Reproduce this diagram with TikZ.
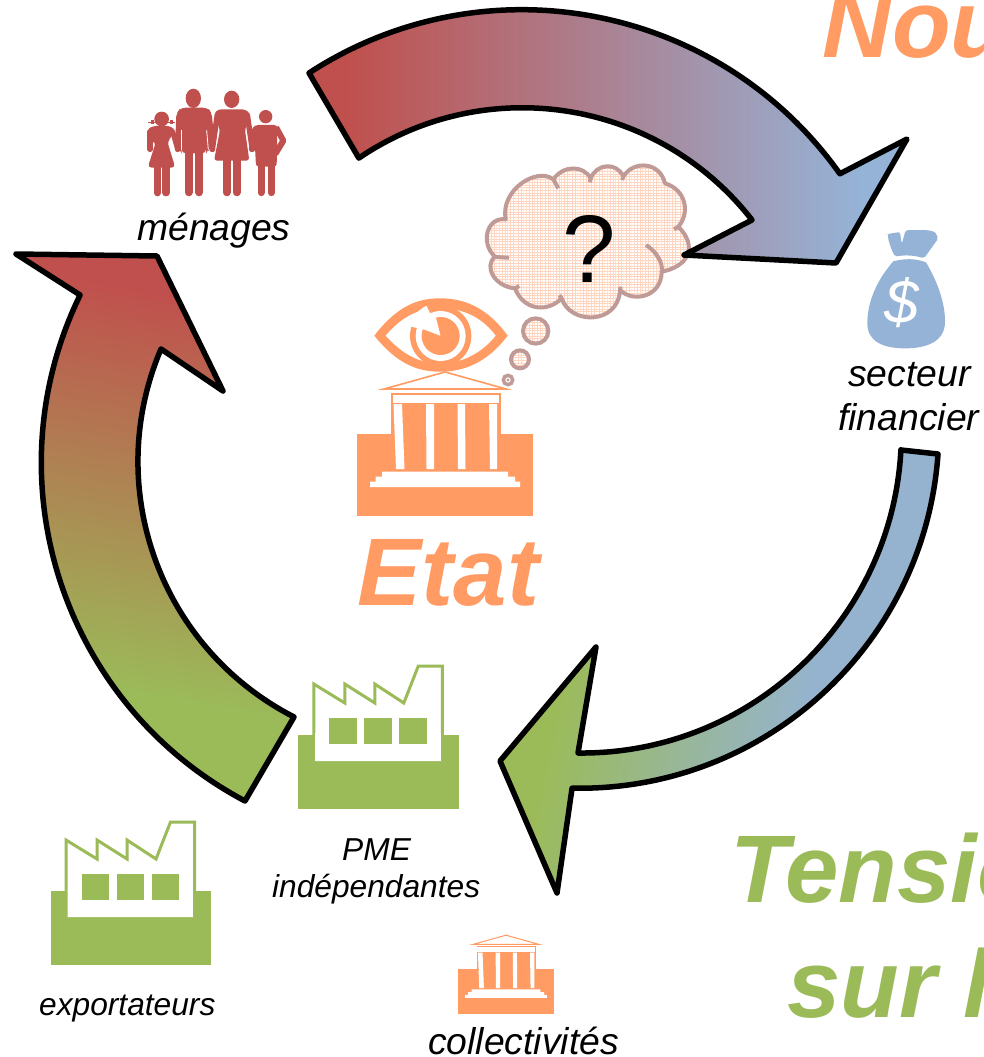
\documentclass[tikz,border=0pt]{standalone}
\usepackage{fontspec}
\setmainfont{Liberation Sans}
\usetikzlibrary{patterns,calc}
\definecolor{redc}{HTML}{C0504D}
\definecolor{bluec}{HTML}{95B3D7}
\definecolor{bluer}{HTML}{95B3CF}
\definecolor{greenc}{HTML}{9BBB59}
\definecolor{orangec}{HTML}{FF9B63}
\definecolor{cloudc}{HTML}{BF9A96}
\definecolor{gridc}{HTML}{FFD5BF}
\pgfdeclarepatternformonly{finegrid}{\pgfqpoint{-0.2pt}{-0.2pt}}{\pgfqpoint{2.9pt}{2.9pt}}{\pgfqpoint{2.7pt}{2.7pt}}{%
  \pgfsetlinewidth{0.7pt}%
  \pgfpathmoveto{\pgfqpoint{0pt}{0pt}}\pgfpathlineto{\pgfqpoint{2.7pt}{0pt}}%
  \pgfpathmoveto{\pgfqpoint{0pt}{0pt}}\pgfpathlineto{\pgfqpoint{0pt}{2.7pt}}%
  \pgfusepath{stroke}}
\tikzset{
  x=1pt,y=-1pt,
  lab/.style={inner sep=0pt,anchor=base west,font=\fontsize{37.3}{37.3}\selectfont\itshape,text=black},
  labs/.style={lab,font=\fontsize{31.7}{31.7}\selectfont\itshape},
  big/.style={inner sep=0pt,anchor=base west,font=\fontsize{96}{96}\selectfont\bfseries\itshape},
  arrowline/.style={draw=black,line width=5.5pt,line join=round},
  cloudline/.style={draw=cloudc,line width=4pt},
  limb/.style={draw=redc,line cap=round,line join=round},
}
% gradient-filled arrow: #1 path, #2 centre, #3 angle, #4 #5 extent, #6 #7 colours
\newcommand{\gradarrow}[7]{%
  \begin{scope}
    \clip #1;
    \begin{scope}[transform canvas={rotate around={#3:(#2)}}]
      \fill[#6] ($(#2)+(#4-1500,-1500)$) rectangle ($(#2)+(#4+1,1500)$);
      \fill[#7] ($(#2)+(#5-1,-1500)$) rectangle ($(#2)+(#5+1500,1500)$);
      \shade[left color=#6,right color=#7] ($(#2)+(#4,-1500)$) rectangle ($(#2)+(#5,1500)$);
    \end{scope}
  \end{scope}
  \path[arrowline] #1;}
\newcommand{\temple}[4]{% x, y of base top-left, scale, line width
  \begin{scope}[shift={(#1,#2)},scale=#3]
    \fill[orangec] (0,0) rectangle (176,81.7);
    \fill[orangec] (34,-41.5) rectangle (143.5,36);
    \fill[white] (35.5,-39.5) rectangle (142,-31.5);
    \foreach \a/\b/\c/\d in {36.5/45/39/47.5, 69/77/69.5/77, 100.5/108/101/108.5, 132/140/133/140}
      \fill[white] (\a,-30) -- (\b,-30) -- (\d,35) -- (\c,35) -- cycle;
    \fill[white] (25,37.5) -- (151,37.5) -- (151,42.5) -- (158,42.5) -- (158,47.5) -- (163,47.5) -- (163,53) -- (13,53) -- (13,47.5) -- (18.5,47.5) -- (18.5,42.5) -- (25,42.5) -- cycle;
    \draw[orangec,line width=#4,line join=miter,fill=white] (27,-45) -- (88,-62) -- (149,-45) -- cycle;
  \end{scope}}
\newcommand{\factory}[2]{%
  \begin{scope}[shift={(#1,#2)}]
    \fill[greenc] (0,0) rectangle (160.5,74);
    \draw[greenc,line width=3pt,fill=white,line join=miter] (15.5,26) -- (15.5,-51) -- (46.5,-32) -- (46.5,-51) -- (76.5,-32) -- (76.5,-51) -- (105.5,-32) -- (120,-69) -- (144,-69) -- (144,26);
    \fill[white] (17,-2) rectangle (142.5,26);
    \fill[greenc] (31,-17) rectangle (58.5,9);
    \fill[greenc] (66,-17) rectangle (93.5,9);
    \fill[greenc] (101,-17) rectangle (128.5,9);
  \end{scope}}
\begin{document}
\begin{tikzpicture}
\clip (0,0) rectangle (983,1057);
\fill[white] (0,0) rectangle (983,1057);

% cloud
\begin{scope}[shift={(340,150)},scale=1/3]
  \path[cloudline,line join=round,pattern=finegrid,pattern color=gridc,preaction={fill=white}]
    (497,208) .. controls (480,120) and (590,50) .. (640,88)
    .. controls (670,45) and (730,45) .. (752,85)
    .. controls (770,40) and (830,35) .. (850,80)
    .. controls (880,30) and (960,35) .. (975,100)
    .. controls (1040,120) and (1050,190) .. (1015,230)
    .. controls (1075,290) and (1045,350) .. (965,365)
    .. controls (965,440) and (880,460) .. (840,420)
    .. controls (835,525) and (690,525) .. (665,445)
    .. controls (620,490) and (550,480) .. (525,415)
    .. controls (465,410) and (430,350) .. (465,320)
    .. controls (420,280) and (440,200) .. (497,208) -- cycle;
  \draw[cloudline] (640,88) -- (655,115);
  \draw[cloudline] (752,85) -- (750,97);
  \draw[cloudline] (850,80) -- (846,90);
  \draw[cloudline] (1015,230) -- (1002,238);
  \draw[cloudline] (465,320) .. controls (480,322) .. (507,323);
  \draw[cloudline] (965,365) .. controls (970,340) and (950,305) .. (918,285);
  \draw[cloudline] (840,420) -- (842,410);
  \draw[cloudline] (665,445) -- (658,436);
  \draw[cloudline] (525,415) -- (538,408);
  \path[cloudline,pattern=finegrid,pattern color=gridc,preaction={fill=white}] (587,543) circle (38);
  \path[cloudline,pattern=finegrid,pattern color=gridc,preaction={fill=white}] (540,628) circle (27);
  \path[cloudline,line width=3.5pt,fill=white] (504,690) circle (14);
  \fill[cloudc] (504,690) circle (5);
\end{scope}
\node[inner sep=0pt,anchor=base west,font=\fontsize{96}{96}\selectfont] (q) at (562,282) {?};

% arrows
\gradarrow{(309,73) arc (-123.1:-35.4:390)
   -- (907,139) -- (836,263) -- (684,255) -- (752,220)
   arc (-37.9:-124.2:291) -- cycle}
  {600,130}{0}{-255}{260}{redc}{bluec}
\gradarrow{(901,450) -- (938,454) arc (4:91.2:359.3)
   -- (557,893) -- (500,761) -- (596,647) -- (578,753)
   arc (90.6:3:320) -- cycle}
  {700,700}{-12}{-140}{110}{greenc}{bluer}
\gradarrow{(294,717) -- (245,801) arc (117.9:206:382.7)
   -- (16,254) -- (157,256) -- (223,391) -- (161,349)
   arc (203.1:117.2:287) -- cycle}
  {150,500}{-100}{-205}{195}{redc}{greenc}

% big building with eye
\temple{357}{434}{1}{1.6pt}
\begin{scope}[shift={(340,150)},scale=1/3]
  \fill[orangec] (103,557) .. controls (170,470) and (230,445) .. (300,445) .. controls (370,445) and (440,470) .. (503,557)
     .. controls (440,640) and (370,665) .. (300,665) .. controls (230,665) and (170,640) .. (103,557) -- cycle;
  \fill[white] (137,557) .. controls (190,495) and (240,475) .. (300,475) .. controls (360,475) and (420,495) .. (467,557)
     .. controls (420,615) and (360,640) .. (300,640) .. controls (240,640) and (190,615) .. (137,557) -- cycle;
  \fill[orangec] (302,558) circle (92);
  \fill[white] (302,558) circle (75);
  \fill[white] (302,558) -- ++(-115:100) arc (-115:-162:100) -- cycle;
  \fill[orangec] (302,558) -- ++(-104:57) arc (-104:201:57) -- cycle;
\end{scope}

% family
\begin{scope}[shift={(130,70)},scale=1/3]
  % man
  \fill[redc] (190,85) ellipse (23 and 29);
  \fill[redc,rounded corners=4pt] (140,240) -- (140,125) -- (155,113) -- (230,113) -- (245,125) -- (245,240) -- (228,240) -- (228,250) -- (155,250) -- (155,240) -- cycle;
  \draw[limb,line width=8pt] (176,240) -- (176,367);
  \draw[limb,line width=8pt] (207,240) -- (207,367);
  \draw[limb,line width=5.5pt] (147,140) -- (143,238);
  \draw[limb,line width=5.5pt] (238,140) -- (247,238);
  \draw[white,line width=.8pt] (155,180) -- (155,240);
  \draw[white,line width=.8pt] (230,180) -- (235,240);
  % woman
  \fill[redc] (305,88) ellipse (23 and 26);
  \fill[redc,rounded corners=3pt] (252,130) -- (265,118) -- (345,118) -- (360,130) -- (345,180) -- (358,272) -- (252,272) -- (270,180) -- cycle;
  \draw[limb,line width=5.5pt] (262,135) -- (247,238);
  \draw[limb,line width=5.5pt] (352,135) -- (367,238);
  \draw[limb,line width=8pt] (290,270) -- (290,367);
  \draw[limb,line width=8pt] (320,270) -- (320,367);
  % girl
  \fill[redc] (95,147) circle (22);
  \fill[redc,rounded corners=4pt] (53,180) -- (65,168) -- (125,168) -- (136,185) -- (112,215) -- (136,293) -- (53,293) -- (78,215) -- (53,215) -- cycle;
  \draw[limb,line width=5.5pt] (60,185) -- (60,238);
  \draw[limb,line width=5pt] (128,185) -- (143,238);
  \draw[limb,line width=7.5pt] (82,290) -- (82,368);
  \draw[limb,line width=7.5pt] (108,290) -- (108,368);
  \fill[redc] (62,150) rectangle (72,162);
  \fill[redc] (120,150) rectangle (130,162);
  \draw[redc,line width=.8pt] (55,156) -- (78,156) (115,156) -- (135,156);
  % boy
  \fill[redc] (407,140) circle (20);
  \fill[redc,rounded corners=3pt] (372,172) -- (375,165) -- (442,165) -- (440,290) -- (378,290) -- (375,230) -- cycle;
  \draw[limb,line width=5.5pt] (375,178) -- (365,238);
  \draw[limb,line width=6pt,line cap=butt] (438,172) -- (460,212) -- (436,252);
  \draw[limb,line width=7pt] (393,290) -- (393,368);
  \draw[limb,line width=7pt] (424,290) -- (424,368);
\end{scope}

% money bag
\begin{scope}[shift={(850,220)},scale=1/3]
  \fill[bluec,rounded corners=2pt] (113,42) -- (150,36) -- (155,72) -- (167,30) -- (230,30) .. controls (255,35) .. (265,55) -- (222,115) .. controls (190,105) and (160,105) .. (135,110) .. controls (125,90) and (115,65) .. cycle;
  \fill[bluec] (130,124) .. controls (165,115) and (195,115) .. (228,127)
     .. controls (265,190) and (285,250) .. (285,305) .. controls (285,365) and (230,385) .. (165,385)
     .. controls (100,385) and (52,365) .. (52,310) .. controls (52,240) and (85,175) .. (130,124) -- cycle;
\end{scope}
\node[inner sep=0pt,anchor=center,text=white,font=\fontsize{62}{62}\selectfont\itshape] (dollar) at (902,303) {\$};

% factories and small temple
\factory{298.3}{735}
\factory{50.5}{891}
\temple{458}{969}{.5455}{1pt}

% labels
\node[lab] (menages) at (137,240) {ménages};
\node[lab] (secteur) at (848,386) {secteur};
\node[lab] (financier) at (838,430) {financier};
\node[labs] (pme) at (342,860) {PME};
\node[labs] (indep) at (272,897) {indépendantes};
\node[labs] (export) at (39,1015) {exportateurs};
\node[lab] (collec) at (428,1054) {collectivités};
\node[big,text=orangec] (etat) at (357.5,605) {Etat};
\node[big,text=orangec] (nou) at (822.5,57.5) {Nou};
\node[big,text=greenc] (tensio) at (730,902) {Tensio};
\node[big,text=greenc] (sur) at (787,1017) {sur l};
\end{tikzpicture}
\end{document}
